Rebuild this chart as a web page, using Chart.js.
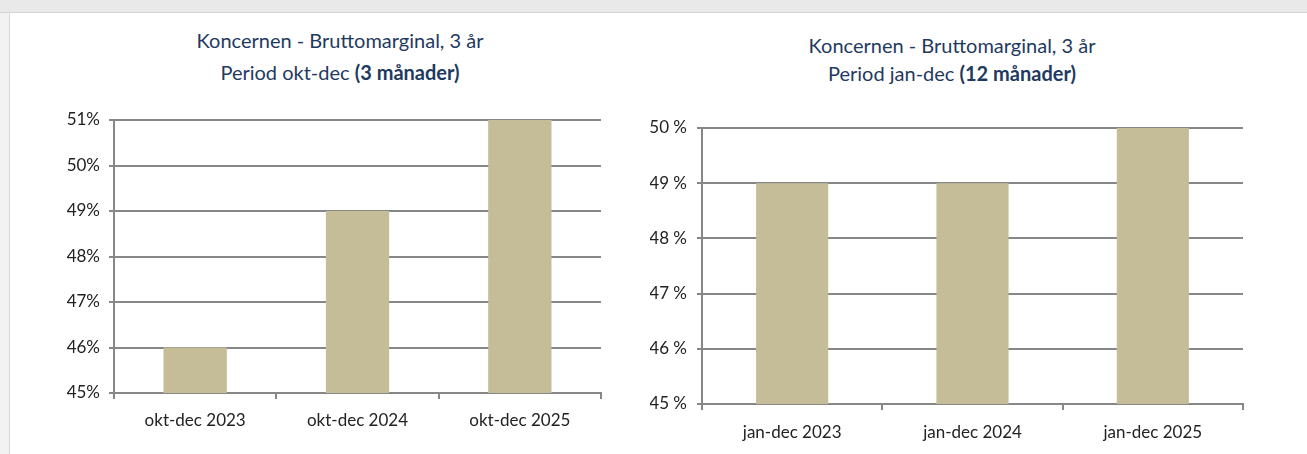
<!DOCTYPE html>
<html lang="sv">
<head>
<meta charset="UTF-8" />
<title>Koncernen - Bruttomarginal</title>
<script src="https://cdn.jsdelivr.net/npm/chart.js"></script>
<style>
    body {
        margin: 0;
        width: 1307px;
        height: 454px;
        overflow: hidden;
        background: #f2f2f2;
        font-family: Lato, "Open Sans", sans-serif;
        position: relative;
    }
    .topbar {
        position: absolute;
        left: 0; top: 0;
        width: 1307px; height: 12px;
        background: #e9e9e9;
        border-bottom: 1px solid #d4d4d4;
    }
    .card {
        position: absolute;
        left: 9px; top: 13px;
        width: 1298px; height: 441px;
        background: #fff;
        border-left: 1px solid #d8d8d8;
    }
    .title {
        position: absolute;
        color: #1f3a60;
        font-size: 20px;
        text-align: center;
        white-space: nowrap;
    }
    .title b { font-weight: bold; }
    .box { position: absolute; }
</style>
</head>
<body>
<div class="topbar"></div>
<div class="card"></div>

<div class="title" style="left:140px; width:400px; top:24px; line-height:32px;">
    Koncernen - Bruttomarginal, 3 år<br>Period okt-dec <b>(3 månader)</b>
</div>
<div class="title" style="left:752px; width:400px; top:31px; line-height:28px;">
    Koncernen - Bruttomarginal, 3 år<br>Period jan-dec <b>(12 månader)</b>
</div>

<div class="box" style="left:0; top:100px; width:640px; height:354px;"><canvas id="q4"></canvas></div>
<div class="box" style="left:650px; top:100px; width:657px; height:354px;"><canvas id="year"></canvas></div>

<script>
    // values (percent)
    const q4Labels = ['okt-dec 2023', 'okt-dec 2024', 'okt-dec 2025'];
    const q4Margin = [46, 49, 51];

    const yearLabels = ['jan-dec 2023', 'jan-dec 2024', 'jan-dec 2025'];
    const yearMargin = [49, 49, 50];

    const barColor = '#c4bd97';
    const gridColor = '#878787';
    const textColor = '#222222';

    function makeChart(id, labels, values, opts) {
        return new Chart(document.getElementById(id), {
            type: 'bar',
            data: {
                labels: labels,
                datasets: [{
                    data: values,
                    backgroundColor: barColor,
                    borderWidth: 0,
                    categoryPercentage: 1,
                    barPercentage: opts.barPct
                }]
            },
            options: {
                responsive: true,
                maintainAspectRatio: false,
                animation: false,
                layout: { padding: opts.padding },
                plugins: {
                    legend: { display: false },
                    tooltip: { enabled: false }
                },
                scales: {
                    x: {
                        grid: {
                            drawOnChartArea: false,
                            drawTicks: true,
                            tickLength: 6,
                            color: gridColor,
                            lineWidth: 2
                        },
                        border: { display: true, color: gridColor, width: 2 },
                        ticks: {
                            color: textColor,
                            font: { family: 'Lato', size: 17 },
                            padding: opts.xPad,
                            maxRotation: 0
                        },
                        afterFit: s => { s.height = opts.xHeight; }
                    },
                    y: {
                        min: 45,
                        max: opts.max,
                        grid: {
                            color: gridColor,
                            lineWidth: 2,
                            tickLength: 5
                        },
                        border: { display: true, color: gridColor, width: 2 },
                        ticks: {
                            stepSize: 1,
                            color: textColor,
                            font: { family: 'Lato', size: 17 },
                            padding: opts.yPad,
                            callback: v => v + opts.suffix
                        },
                        afterFit: s => { s.width = opts.yWidth; }
                    }
                }
            }
        });
    }

    makeChart('q4', q4Labels, q4Margin, {
        barPct: 0.39, max: 51, suffix: '%',
        padding: { left: 0, right: 39, top: 20, bottom: 0 },
        xHeight: 61, xPad: 11, yWidth: 114, yPad: 9
    });

    makeChart('year', yearLabels, yearMargin, {
        barPct: 0.4, max: 50, suffix: ' %',
        padding: { left: 0, right: 64, top: 28, bottom: 0 },
        xHeight: 50, xPad: 12, yWidth: 52, yPad: 10
    });
</script>
</body>
</html>
